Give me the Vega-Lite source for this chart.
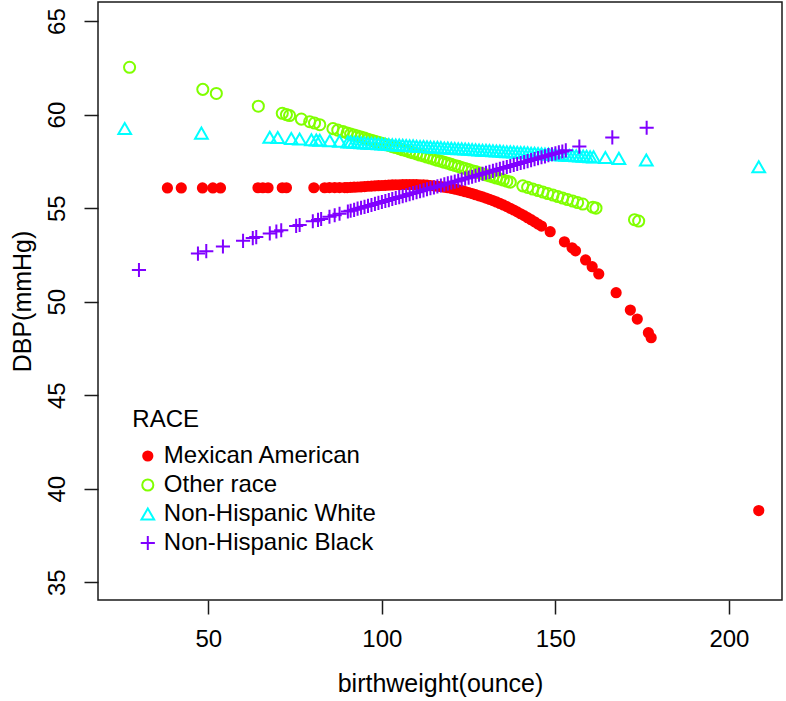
{
  "$schema": "https://vega.github.io/schema/vega-lite/v6.json",
  "width": 684,
  "height": 598,
  "autosize": {"type": "none"},
  "padding": {"left": 98, "top": 2, "right": 4, "bottom": 101},
  "background": "white",
  "config": {
    "font": "Liberation Sans",
    "view": {"stroke": "#1a1a1a", "strokeWidth": 1.5},
    "axis": {
      "grid": false, "domain": false, "tickColor": "#1a1a1a", "tickWidth": 1.5, "tickSize": 14,
      "labelFont": "Liberation Sans", "labelFontSize": 24, "labelColor": "#000",
      "titleFont": "Liberation Sans", "titleFontSize": 25, "titleFontWeight": "normal", "titleColor": "#000"
    },
    "legend": {
      "titleFont": "Liberation Sans", "titleFontSize": 24, "titleFontWeight": "normal", "titleColor": "#000",
      "labelFont": "Liberation Sans", "labelFontSize": 24, "labelColor": "#000", "labelLimit": 0
    }
  },
  "data": {"values": [
    {"bw":38.2,"dbp":56.08,"race":"Mexican American"},{"bw":42.2,"dbp":56.08,"race":"Mexican American"},{"bw":48.3,"dbp":56.08,"race":"Mexican American"},{"bw":51.3,"dbp":56.08,"race":"Mexican American"},{"bw":53.5,"dbp":56.08,"race":"Mexican American"},{"bw":64.3,"dbp":56.09,"race":"Mexican American"},{"bw":65.7,"dbp":56.09,"race":"Mexican American"},{"bw":67.2,"dbp":56.09,"race":"Mexican American"},{"bw":71.3,"dbp":56.09,"race":"Mexican American"},{"bw":72.5,"dbp":56.09,"race":"Mexican American"},{"bw":80.4,"dbp":56.09,"race":"Mexican American"},{"bw":83.5,"dbp":56.09,"race":"Mexican American"},{"bw":84.9,"dbp":56.1,"race":"Mexican American"},{"bw":86.4,"dbp":56.1,"race":"Mexican American"},{"bw":87.8,"dbp":56.1,"race":"Mexican American"},{"bw":89.3,"dbp":56.1,"race":"Mexican American"},
    {"bw":90,"dbp":56.1,"race":"Mexican American"},{"bw":91,"dbp":56.11,"race":"Mexican American"},{"bw":92,"dbp":56.12,"race":"Mexican American"},{"bw":93,"dbp":56.13,"race":"Mexican American"},{"bw":94,"dbp":56.14,"race":"Mexican American"},{"bw":95,"dbp":56.15,"race":"Mexican American"},{"bw":96,"dbp":56.17,"race":"Mexican American"},{"bw":97,"dbp":56.18,"race":"Mexican American"},{"bw":98,"dbp":56.19,"race":"Mexican American"},{"bw":99,"dbp":56.2,"race":"Mexican American"},{"bw":100,"dbp":56.21,"race":"Mexican American"},{"bw":101,"dbp":56.22,"race":"Mexican American"},{"bw":102,"dbp":56.23,"race":"Mexican American"},{"bw":103,"dbp":56.24,"race":"Mexican American"},{"bw":104,"dbp":56.25,"race":"Mexican American"},{"bw":105,"dbp":56.25,"race":"Mexican American"},{"bw":106,"dbp":56.26,"race":"Mexican American"},{"bw":107,"dbp":56.26,"race":"Mexican American"},{"bw":108,"dbp":56.26,"race":"Mexican American"},{"bw":109,"dbp":56.26,"race":"Mexican American"},{"bw":110,"dbp":56.26,"race":"Mexican American"},{"bw":111,"dbp":56.25,"race":"Mexican American"},{"bw":112,"dbp":56.24,"race":"Mexican American"},{"bw":113,"dbp":56.23,"race":"Mexican American"},{"bw":114,"dbp":56.21,"race":"Mexican American"},{"bw":115,"dbp":56.19,"race":"Mexican American"},{"bw":116,"dbp":56.17,"race":"Mexican American"},{"bw":117,"dbp":56.15,"race":"Mexican American"},{"bw":118,"dbp":56.12,"race":"Mexican American"},{"bw":119,"dbp":56.09,"race":"Mexican American"},{"bw":120,"dbp":56.06,"race":"Mexican American"},{"bw":121,"dbp":56.02,"race":"Mexican American"},{"bw":122,"dbp":55.98,"race":"Mexican American"},{"bw":123,"dbp":55.93,"race":"Mexican American"},{"bw":124,"dbp":55.88,"race":"Mexican American"},{"bw":125,"dbp":55.83,"race":"Mexican American"},{"bw":126,"dbp":55.78,"race":"Mexican American"},{"bw":127,"dbp":55.72,"race":"Mexican American"},{"bw":128,"dbp":55.66,"race":"Mexican American"},{"bw":129,"dbp":55.6,"race":"Mexican American"},{"bw":130,"dbp":55.54,"race":"Mexican American"},{"bw":131,"dbp":55.47,"race":"Mexican American"},{"bw":132,"dbp":55.4,"race":"Mexican American"},{"bw":133,"dbp":55.33,"race":"Mexican American"},{"bw":134,"dbp":55.25,"race":"Mexican American"},{"bw":135,"dbp":55.17,"race":"Mexican American"},{"bw":136,"dbp":55.08,"race":"Mexican American"},{"bw":137,"dbp":54.99,"race":"Mexican American"},{"bw":138,"dbp":54.9,"race":"Mexican American"},{"bw":139,"dbp":54.8,"race":"Mexican American"},{"bw":140,"dbp":54.7,"race":"Mexican American"},{"bw":141,"dbp":54.6,"race":"Mexican American"},{"bw":142,"dbp":54.49,"race":"Mexican American"},{"bw":143,"dbp":54.38,"race":"Mexican American"},{"bw":144,"dbp":54.27,"race":"Mexican American"},{"bw":145,"dbp":54.15,"race":"Mexican American"},{"bw":146,"dbp":54.04,"race":"Mexican American"},
    {"bw":148.5,"dbp":53.74,"race":"Mexican American"},{"bw":152.6,"dbp":53.2,"race":"Mexican American"},{"bw":154.8,"dbp":52.88,"race":"Mexican American"},{"bw":155.8,"dbp":52.72,"race":"Mexican American"},{"bw":158.7,"dbp":52.23,"race":"Mexican American"},{"bw":160.6,"dbp":51.87,"race":"Mexican American"},{"bw":162.5,"dbp":51.48,"race":"Mexican American"},{"bw":167.5,"dbp":50.48,"race":"Mexican American"},{"bw":171.6,"dbp":49.55,"race":"Mexican American"},{"bw":173.6,"dbp":49.07,"race":"Mexican American"},{"bw":176.8,"dbp":48.34,"race":"Mexican American"},{"bw":177.6,"dbp":48.07,"race":"Mexican American"},{"bw":208.6,"dbp":38.83,"race":"Mexican American"},

    {"bw":27.3,"dbp":62.53,"race":"Other race"},{"bw":48.4,"dbp":61.35,"race":"Other race"},{"bw":52.3,"dbp":61.13,"race":"Other race"},{"bw":64.4,"dbp":60.45,"race":"Other race"},{"bw":71.3,"dbp":60.07,"race":"Other race"},{"bw":72.5,"dbp":60.0,"race":"Other race"},{"bw":73.4,"dbp":59.95,"race":"Other race"},{"bw":76.8,"dbp":59.76,"race":"Other race"},{"bw":79.2,"dbp":59.62,"race":"Other race"},{"bw":80.6,"dbp":59.55,"race":"Other race"},{"bw":82.1,"dbp":59.46,"race":"Other race"},{"bw":85.9,"dbp":59.25,"race":"Other race"},{"bw":87.3,"dbp":59.17,"race":"Other race"},{"bw":88.8,"dbp":59.09,"race":"Other race"},
    {"bw":90,"dbp":59.02,"race":"Other race"},{"bw":91,"dbp":58.96,"race":"Other race"},{"bw":92,"dbp":58.91,"race":"Other race"},{"bw":93,"dbp":58.85,"race":"Other race"},{"bw":94,"dbp":58.8,"race":"Other race"},{"bw":95,"dbp":58.74,"race":"Other race"},{"bw":96,"dbp":58.68,"race":"Other race"},{"bw":97,"dbp":58.63,"race":"Other race"},{"bw":98,"dbp":58.57,"race":"Other race"},{"bw":99,"dbp":58.52,"race":"Other race"},{"bw":100,"dbp":58.46,"race":"Other race"},{"bw":101,"dbp":58.4,"race":"Other race"},{"bw":102,"dbp":58.35,"race":"Other race"},{"bw":103,"dbp":58.29,"race":"Other race"},{"bw":104,"dbp":58.24,"race":"Other race"},{"bw":105,"dbp":58.18,"race":"Other race"},{"bw":106,"dbp":58.12,"race":"Other race"},{"bw":107,"dbp":58.07,"race":"Other race"},{"bw":108,"dbp":58.01,"race":"Other race"},{"bw":109,"dbp":57.96,"race":"Other race"},{"bw":110,"dbp":57.9,"race":"Other race"},{"bw":111,"dbp":57.84,"race":"Other race"},{"bw":112,"dbp":57.79,"race":"Other race"},{"bw":113,"dbp":57.73,"race":"Other race"},{"bw":114,"dbp":57.68,"race":"Other race"},{"bw":115,"dbp":57.62,"race":"Other race"},{"bw":116,"dbp":57.56,"race":"Other race"},{"bw":117,"dbp":57.51,"race":"Other race"},{"bw":118,"dbp":57.45,"race":"Other race"},{"bw":119,"dbp":57.4,"race":"Other race"},{"bw":120,"dbp":57.34,"race":"Other race"},{"bw":121,"dbp":57.28,"race":"Other race"},{"bw":122,"dbp":57.23,"race":"Other race"},{"bw":123,"dbp":57.17,"race":"Other race"},{"bw":124,"dbp":57.12,"race":"Other race"},{"bw":125,"dbp":57.06,"race":"Other race"},{"bw":126,"dbp":57.0,"race":"Other race"},{"bw":127,"dbp":56.95,"race":"Other race"},{"bw":128,"dbp":56.89,"race":"Other race"},{"bw":129,"dbp":56.84,"race":"Other race"},{"bw":130,"dbp":56.78,"race":"Other race"},{"bw":131,"dbp":56.72,"race":"Other race"},{"bw":132,"dbp":56.67,"race":"Other race"},{"bw":133,"dbp":56.61,"race":"Other race"},{"bw":134,"dbp":56.56,"race":"Other race"},{"bw":135,"dbp":56.5,"race":"Other race"},{"bw":136,"dbp":56.44,"race":"Other race"},{"bw":137,"dbp":56.39,"race":"Other race"},
    {"bw":140.6,"dbp":56.19,"race":"Other race"},{"bw":142,"dbp":56.11,"race":"Other race"},{"bw":143.5,"dbp":56.02,"race":"Other race"},{"bw":145,"dbp":55.94,"race":"Other race"},{"bw":146.4,"dbp":55.86,"race":"Other race"},{"bw":147.8,"dbp":55.78,"race":"Other race"},{"bw":149.3,"dbp":55.7,"race":"Other race"},{"bw":150.7,"dbp":55.62,"race":"Other race"},{"bw":152.1,"dbp":55.54,"race":"Other race"},{"bw":153.5,"dbp":55.46,"race":"Other race"},{"bw":155,"dbp":55.38,"race":"Other race"},{"bw":156.4,"dbp":55.3,"race":"Other race"},{"bw":157.9,"dbp":55.22,"race":"Other race"},{"bw":160.8,"dbp":55.05,"race":"Other race"},{"bw":161.7,"dbp":55.0,"race":"Other race"},{"bw":172.8,"dbp":54.38,"race":"Other race"},{"bw":174.0,"dbp":54.31,"race":"Other race"},

    {"bw":25.9,"dbp":59.26,"race":"Non-Hispanic White"},{"bw":48.0,"dbp":59.01,"race":"Non-Hispanic White"},{"bw":67.7,"dbp":58.79,"race":"Non-Hispanic White"},{"bw":70.0,"dbp":58.77,"race":"Non-Hispanic White"},{"bw":73.9,"dbp":58.72,"race":"Non-Hispanic White"},{"bw":76.3,"dbp":58.69,"race":"Non-Hispanic White"},{"bw":79.7,"dbp":58.66,"race":"Non-Hispanic White"},{"bw":81.1,"dbp":58.64,"race":"Non-Hispanic White"},{"bw":82.1,"dbp":58.63,"race":"Non-Hispanic White"},{"bw":85.0,"dbp":58.6,"race":"Non-Hispanic White"},{"bw":87.8,"dbp":58.57,"race":"Non-Hispanic White"},{"bw":90.2,"dbp":58.54,"race":"Non-Hispanic White"},
    {"bw":91,"dbp":58.53,"race":"Non-Hispanic White"},{"bw":92,"dbp":58.52,"race":"Non-Hispanic White"},{"bw":93,"dbp":58.51,"race":"Non-Hispanic White"},{"bw":94,"dbp":58.5,"race":"Non-Hispanic White"},{"bw":95,"dbp":58.48,"race":"Non-Hispanic White"},{"bw":96,"dbp":58.47,"race":"Non-Hispanic White"},{"bw":97,"dbp":58.46,"race":"Non-Hispanic White"},{"bw":98,"dbp":58.45,"race":"Non-Hispanic White"},{"bw":99,"dbp":58.44,"race":"Non-Hispanic White"},{"bw":100,"dbp":58.43,"race":"Non-Hispanic White"},{"bw":101,"dbp":58.42,"race":"Non-Hispanic White"},{"bw":102,"dbp":58.4,"race":"Non-Hispanic White"},{"bw":103,"dbp":58.39,"race":"Non-Hispanic White"},{"bw":104,"dbp":58.38,"race":"Non-Hispanic White"},{"bw":105,"dbp":58.37,"race":"Non-Hispanic White"},{"bw":106,"dbp":58.36,"race":"Non-Hispanic White"},{"bw":107,"dbp":58.35,"race":"Non-Hispanic White"},{"bw":108,"dbp":58.34,"race":"Non-Hispanic White"},{"bw":109,"dbp":58.33,"race":"Non-Hispanic White"},{"bw":110,"dbp":58.31,"race":"Non-Hispanic White"},{"bw":111,"dbp":58.3,"race":"Non-Hispanic White"},{"bw":112,"dbp":58.29,"race":"Non-Hispanic White"},{"bw":113,"dbp":58.28,"race":"Non-Hispanic White"},{"bw":114,"dbp":58.27,"race":"Non-Hispanic White"},{"bw":115,"dbp":58.26,"race":"Non-Hispanic White"},{"bw":116,"dbp":58.25,"race":"Non-Hispanic White"},{"bw":117,"dbp":58.24,"race":"Non-Hispanic White"},{"bw":118,"dbp":58.22,"race":"Non-Hispanic White"},{"bw":119,"dbp":58.21,"race":"Non-Hispanic White"},{"bw":120,"dbp":58.2,"race":"Non-Hispanic White"},{"bw":121,"dbp":58.19,"race":"Non-Hispanic White"},{"bw":122,"dbp":58.18,"race":"Non-Hispanic White"},{"bw":123,"dbp":58.17,"race":"Non-Hispanic White"},{"bw":124,"dbp":58.16,"race":"Non-Hispanic White"},{"bw":125,"dbp":58.15,"race":"Non-Hispanic White"},{"bw":126,"dbp":58.14,"race":"Non-Hispanic White"},{"bw":127,"dbp":58.12,"race":"Non-Hispanic White"},{"bw":128,"dbp":58.11,"race":"Non-Hispanic White"},{"bw":129,"dbp":58.1,"race":"Non-Hispanic White"},{"bw":130,"dbp":58.09,"race":"Non-Hispanic White"},{"bw":131,"dbp":58.08,"race":"Non-Hispanic White"},{"bw":132,"dbp":58.07,"race":"Non-Hispanic White"},{"bw":133,"dbp":58.06,"race":"Non-Hispanic White"},{"bw":134,"dbp":58.05,"race":"Non-Hispanic White"},{"bw":135,"dbp":58.03,"race":"Non-Hispanic White"},{"bw":136,"dbp":58.02,"race":"Non-Hispanic White"},{"bw":137,"dbp":58.01,"race":"Non-Hispanic White"},{"bw":138,"dbp":58.0,"race":"Non-Hispanic White"},{"bw":139,"dbp":57.99,"race":"Non-Hispanic White"},{"bw":140,"dbp":57.98,"race":"Non-Hispanic White"},{"bw":141,"dbp":57.97,"race":"Non-Hispanic White"},{"bw":142,"dbp":57.96,"race":"Non-Hispanic White"},{"bw":143,"dbp":57.94,"race":"Non-Hispanic White"},{"bw":144,"dbp":57.93,"race":"Non-Hispanic White"},{"bw":145,"dbp":57.92,"race":"Non-Hispanic White"},{"bw":146,"dbp":57.91,"race":"Non-Hispanic White"},{"bw":147,"dbp":57.9,"race":"Non-Hispanic White"},{"bw":148,"dbp":57.89,"race":"Non-Hispanic White"},{"bw":149,"dbp":57.88,"race":"Non-Hispanic White"},{"bw":150,"dbp":57.87,"race":"Non-Hispanic White"},{"bw":151,"dbp":57.86,"race":"Non-Hispanic White"},{"bw":152,"dbp":57.84,"race":"Non-Hispanic White"},{"bw":153,"dbp":57.83,"race":"Non-Hispanic White"},{"bw":154,"dbp":57.82,"race":"Non-Hispanic White"},{"bw":155,"dbp":57.81,"race":"Non-Hispanic White"},{"bw":156,"dbp":57.8,"race":"Non-Hispanic White"},{"bw":157,"dbp":57.79,"race":"Non-Hispanic White"},{"bw":158,"dbp":57.78,"race":"Non-Hispanic White"},{"bw":159,"dbp":57.77,"race":"Non-Hispanic White"},{"bw":160,"dbp":57.75,"race":"Non-Hispanic White"},{"bw":161,"dbp":57.74,"race":"Non-Hispanic White"},
    {"bw":164.4,"dbp":57.71,"race":"Non-Hispanic White"},{"bw":168.3,"dbp":57.66,"race":"Non-Hispanic White"},{"bw":176.2,"dbp":57.57,"race":"Non-Hispanic White"},{"bw":208.6,"dbp":57.21,"race":"Non-Hispanic White"},

    {"bw":30.0,"dbp":51.69,"race":"Non-Hispanic Black"},{"bw":47.0,"dbp":52.57,"race":"Non-Hispanic Black"},{"bw":49.4,"dbp":52.7,"race":"Non-Hispanic Black"},{"bw":54.2,"dbp":52.95,"race":"Non-Hispanic Black"},{"bw":60.0,"dbp":53.25,"race":"Non-Hispanic Black"},{"bw":62.8,"dbp":53.4,"race":"Non-Hispanic Black"},{"bw":63.8,"dbp":53.45,"race":"Non-Hispanic Black"},{"bw":67.7,"dbp":53.65,"race":"Non-Hispanic Black"},{"bw":69.6,"dbp":53.75,"race":"Non-Hispanic Black"},{"bw":71.0,"dbp":53.82,"race":"Non-Hispanic Black"},{"bw":75.3,"dbp":54.05,"race":"Non-Hispanic Black"},{"bw":76.3,"dbp":54.1,"race":"Non-Hispanic Black"},{"bw":80.1,"dbp":54.3,"race":"Non-Hispanic Black"},{"bw":81.6,"dbp":54.37,"race":"Non-Hispanic Black"},{"bw":82.5,"dbp":54.42,"race":"Non-Hispanic Black"},{"bw":84.9,"dbp":54.54,"race":"Non-Hispanic Black"},{"bw":86.4,"dbp":54.62,"race":"Non-Hispanic Black"},{"bw":87.8,"dbp":54.7,"race":"Non-Hispanic Black"},{"bw":90.2,"dbp":54.82,"race":"Non-Hispanic Black"},
    {"bw":91,"dbp":54.86,"race":"Non-Hispanic Black"},{"bw":92,"dbp":54.91,"race":"Non-Hispanic Black"},{"bw":93,"dbp":54.97,"race":"Non-Hispanic Black"},{"bw":94,"dbp":55.02,"race":"Non-Hispanic Black"},{"bw":95,"dbp":55.07,"race":"Non-Hispanic Black"},{"bw":96,"dbp":55.12,"race":"Non-Hispanic Black"},{"bw":97,"dbp":55.17,"race":"Non-Hispanic Black"},{"bw":98,"dbp":55.23,"race":"Non-Hispanic Black"},{"bw":99,"dbp":55.28,"race":"Non-Hispanic Black"},{"bw":100,"dbp":55.33,"race":"Non-Hispanic Black"},{"bw":101,"dbp":55.38,"race":"Non-Hispanic Black"},{"bw":102,"dbp":55.43,"race":"Non-Hispanic Black"},{"bw":103,"dbp":55.49,"race":"Non-Hispanic Black"},{"bw":104,"dbp":55.54,"race":"Non-Hispanic Black"},{"bw":105,"dbp":55.59,"race":"Non-Hispanic Black"},{"bw":106,"dbp":55.64,"race":"Non-Hispanic Black"},{"bw":107,"dbp":55.69,"race":"Non-Hispanic Black"},{"bw":108,"dbp":55.75,"race":"Non-Hispanic Black"},{"bw":109,"dbp":55.8,"race":"Non-Hispanic Black"},{"bw":110,"dbp":55.85,"race":"Non-Hispanic Black"},{"bw":111,"dbp":55.9,"race":"Non-Hispanic Black"},{"bw":112,"dbp":55.95,"race":"Non-Hispanic Black"},{"bw":113,"dbp":56.01,"race":"Non-Hispanic Black"},{"bw":114,"dbp":56.06,"race":"Non-Hispanic Black"},{"bw":115,"dbp":56.11,"race":"Non-Hispanic Black"},{"bw":116,"dbp":56.16,"race":"Non-Hispanic Black"},{"bw":117,"dbp":56.21,"race":"Non-Hispanic Black"},{"bw":118,"dbp":56.27,"race":"Non-Hispanic Black"},{"bw":119,"dbp":56.32,"race":"Non-Hispanic Black"},{"bw":120,"dbp":56.37,"race":"Non-Hispanic Black"},{"bw":121,"dbp":56.42,"race":"Non-Hispanic Black"},{"bw":122,"dbp":56.47,"race":"Non-Hispanic Black"},{"bw":123,"dbp":56.53,"race":"Non-Hispanic Black"},{"bw":124,"dbp":56.58,"race":"Non-Hispanic Black"},{"bw":125,"dbp":56.63,"race":"Non-Hispanic Black"},{"bw":126,"dbp":56.68,"race":"Non-Hispanic Black"},{"bw":127,"dbp":56.73,"race":"Non-Hispanic Black"},{"bw":128,"dbp":56.79,"race":"Non-Hispanic Black"},{"bw":129,"dbp":56.84,"race":"Non-Hispanic Black"},{"bw":130,"dbp":56.89,"race":"Non-Hispanic Black"},{"bw":131,"dbp":56.94,"race":"Non-Hispanic Black"},{"bw":132,"dbp":56.99,"race":"Non-Hispanic Black"},{"bw":133,"dbp":57.05,"race":"Non-Hispanic Black"},{"bw":134,"dbp":57.1,"race":"Non-Hispanic Black"},{"bw":135,"dbp":57.15,"race":"Non-Hispanic Black"},{"bw":136,"dbp":57.2,"race":"Non-Hispanic Black"},{"bw":137,"dbp":57.25,"race":"Non-Hispanic Black"},{"bw":138,"dbp":57.31,"race":"Non-Hispanic Black"},{"bw":139,"dbp":57.36,"race":"Non-Hispanic Black"},{"bw":140,"dbp":57.41,"race":"Non-Hispanic Black"},{"bw":141,"dbp":57.46,"race":"Non-Hispanic Black"},{"bw":142,"dbp":57.51,"race":"Non-Hispanic Black"},{"bw":143,"dbp":57.57,"race":"Non-Hispanic Black"},{"bw":144,"dbp":57.62,"race":"Non-Hispanic Black"},{"bw":145,"dbp":57.67,"race":"Non-Hispanic Black"},{"bw":146,"dbp":57.72,"race":"Non-Hispanic Black"},{"bw":147,"dbp":57.77,"race":"Non-Hispanic Black"},{"bw":148,"dbp":57.83,"race":"Non-Hispanic Black"},{"bw":149,"dbp":57.88,"race":"Non-Hispanic Black"},{"bw":150,"dbp":57.93,"race":"Non-Hispanic Black"},{"bw":151,"dbp":57.98,"race":"Non-Hispanic Black"},{"bw":152,"dbp":58.03,"race":"Non-Hispanic Black"},{"bw":153,"dbp":58.09,"race":"Non-Hispanic Black"},
    {"bw":156.9,"dbp":58.29,"race":"Non-Hispanic Black"},{"bw":166.4,"dbp":58.78,"race":"Non-Hispanic Black"},{"bw":176.3,"dbp":59.3,"race":"Non-Hispanic Black"}
  ]},
  "mark": {"type": "point", "strokeWidth": 2, "opacity": 1},
  "encoding": {
    "x": {
      "field": "bw", "type": "quantitative",
      "scale": {"domain": [18.2, 215.3], "nice": false, "zero": false},
      "axis": {
        "values": [50, 100, 150, 200], "title": "birthweight(ounce)",
        "labelPadding": 13, "titleY": 83, "titleBaseline": "middle", "titleAnchor": "middle"
      }
    },
    "y": {
      "field": "dbp", "type": "quantitative",
      "scale": {"domain": [34.05, 66.02], "nice": false, "zero": false},
      "axis": {
        "values": [35, 40, 45, 50, 55, 60, 65], "title": "DBP(mmHg)",
        "labelAngle": -90, "labelAlign": "center", "labelBaseline": "alphabetic", "labelPadding": 20,
        "titleAngle": -90, "titleX": -76, "titleY": 299, "titleAlign": "center", "titleBaseline": "middle"
      }
    },
    "shape": {
      "field": "race", "type": "nominal",
      "scale": {
        "domain": ["Mexican American", "Other race", "Non-Hispanic White", "Non-Hispanic Black"],
        "range": ["circle", "circle", "triangle-up", "M-1,0H1M0,-1V1"]
      },
      "legend": {
        "title": "RACE", "orient": "none", "legendX": 34.3, "legendY": 406,
        "padding": 0, "titlePadding": 12, "rowPadding": 5, "labelOffset": 4, "symbolOffset": 3.5,
        "symbolStrokeWidth": 2
      }
    },
    "stroke": {
      "field": "race", "type": "nominal",
      "scale": {
        "domain": ["Mexican American", "Other race", "Non-Hispanic White", "Non-Hispanic Black"],
        "range": ["#FF0000", "#80FF00", "#00FFFF", "#8000FF"]
      }
    },
    "fill": {
      "field": "race", "type": "nominal",
      "scale": {
        "domain": ["Mexican American", "Other race", "Non-Hispanic White", "Non-Hispanic Black"],
        "range": ["#FF0000", "transparent", "transparent", "transparent"]
      }
    },
    "size": {
      "field": "race", "type": "nominal",
      "scale": {
        "domain": ["Mexican American", "Other race", "Non-Hispanic White", "Non-Hispanic Black"],
        "range": [85, 200, 340, 400]
      }
    }
  }
}
